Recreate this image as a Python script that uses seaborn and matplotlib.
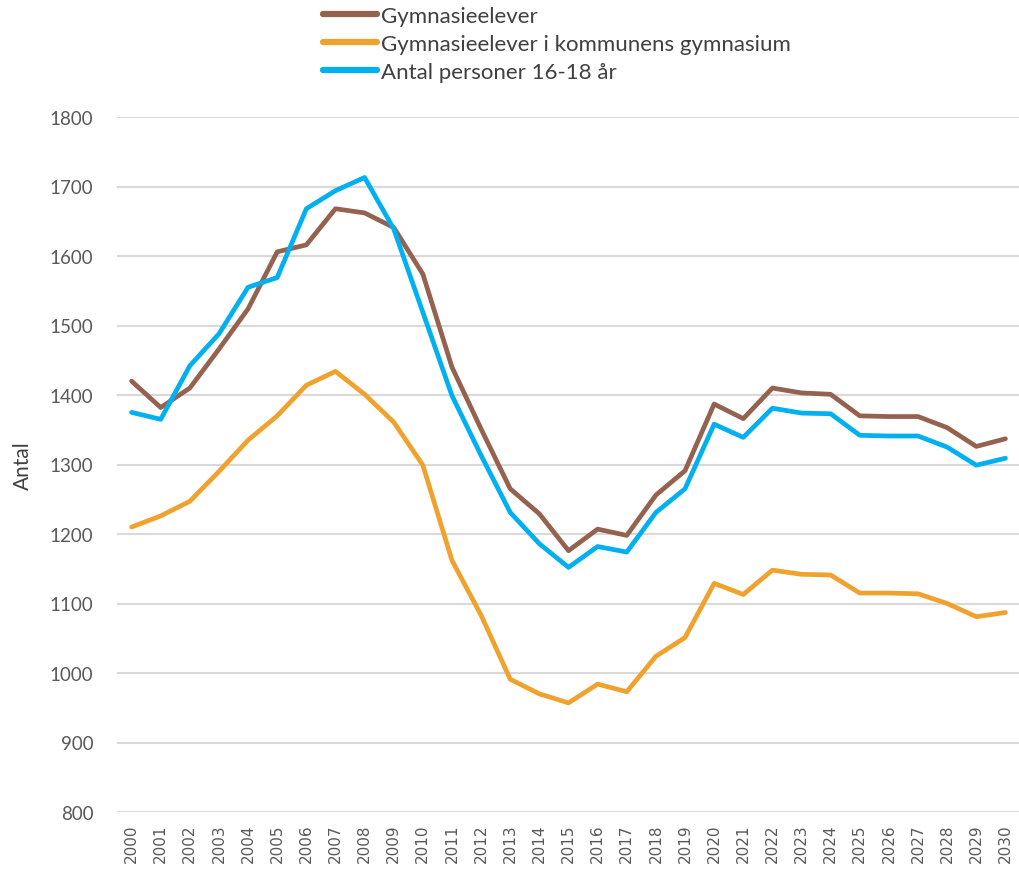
import numpy as np
import pandas as pd
import matplotlib
matplotlib.use("Agg")
import matplotlib.pyplot as plt
import seaborn as sns

# --- data ---
years = [str(y) for y in range(2000, 2031)]

gymnasieelever = [1420, 1382, 1410, 1466, 1524, 1606, 1616, 1668, 1662, 1641,
                  1574, 1440, 1351, 1265, 1229, 1176, 1207, 1198, 1256, 1291,
                  1387, 1366, 1410, 1403, 1401, 1370, 1369, 1369, 1353, 1326,
                  1337]
kommunens = [1210, 1226, 1247, 1290, 1335, 1370, 1414, 1434, 1401, 1361,
             1299, 1162, 1083, 991, 970, 957, 984, 973, 1024, 1051,
             1129, 1113, 1148, 1142, 1141, 1115, 1115, 1114, 1100, 1081,
             1087]
personer_16_18 = [1375, 1365, 1442, 1488, 1555, 1569, 1668, 1694, 1713, 1639,
                  1519, 1399, 1313, 1231, 1186, 1152, 1182, 1174, 1231, 1265,
                  1358, 1339, 1381, 1374, 1373, 1342, 1341, 1341, 1325, 1299,
                  1309]

series_names = ["Gymnasieelever",
                "Gymnasieelever i kommunens gymnasium",
                "Antal personer 16-18 år"]
farger = ["#94624F", "#F0A22E", "#00B0F0"]

df = pd.DataFrame({
    "år": years * 3,
    "idx": list(range(len(years))) * 3,
    "antal": gymnasieelever + kommunens + personer_16_18,
    "serie": [series_names[0]] * len(years) + [series_names[1]] * len(years)
             + [series_names[2]] * len(years),
})

sns.set_style("white")
plt.rcParams["font.family"] = ["Lato", "DejaVu Sans"]

fig = plt.figure(figsize=(10.2, 8.78), dpi=100)
ax = fig.add_axes([117 / 1020, 1 - 813 / 878, 903 / 1020, (813 - 118) / 878])

sns.lineplot(data=df, x="idx", y="antal", hue="serie", palette=farger,
             hue_order=series_names, linewidth=3.4, ax=ax, legend=True)

ax.set_xlim(-0.5, len(years) - 0.5)
ax.set_ylim(800, 1800)
ax.set_yticks(np.arange(800, 1801, 100))
ax.set_xticks(range(len(years)))
ax.set_xticklabels(years, rotation=90, fontsize=11, color="#595959",
                   family="DejaVu Sans")
ax.tick_params(axis="y", labelsize=13.5, colors="#595959", length=0, pad=17)
ax.tick_params(axis="x", length=0, pad=8)
ax.grid(axis="y", color="#D9D9D9", linewidth=1.5)
ax.set_axisbelow(True)
for s in ax.spines.values():
    s.set_visible(False)

ax.set_xlabel("")
ax.set_ylabel("Antal", fontsize=15, color="#404040")
ax.yaxis.set_label_coords(-0.093, 0.5)

leg = ax.legend(loc="upper left", bbox_to_anchor=(321 / 1020, 1 - 5 / 878),
                bbox_transform=fig.transFigure, frameon=False, fontsize=16,
                handlelength=2.4, handletextpad=0.2, labelspacing=0.36,
                borderaxespad=0.0, borderpad=0.1)
for txt in leg.get_texts():
    txt.set_color("#404040")
for ln in leg.get_lines():
    ln.set_linewidth(4.5)

fig.savefig("out.png", dpi=100)
